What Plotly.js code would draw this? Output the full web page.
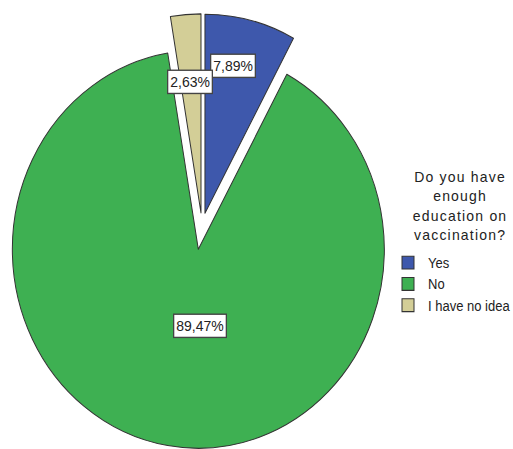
<!DOCTYPE html>
<html><head><meta charset="utf-8">
<script src="https://cdn.plot.ly/plotly-3.0.1.min.js"></script>
<style>
html,body{margin:0;padding:0;overflow:hidden;background:#fff;width:513px;height:449px;}
#chart{position:absolute;left:-20px;top:0;width:560px;height:420px;transform:scaleY(1.07);transform-origin:0 0;}
.annotation[data-index="3"] text{letter-spacing:1.2px;}
</style></head><body><div id="chart"></div>
<script>
const categories = ['Yes', 'No', 'I have no idea'];
const counts = [3, 34, 1];
const legendTitle = 'Do you have<br>enough<br>education on<br>vaccination?';

const colors = ['#3E58AC', '#3EB052', '#D3CE97'];
const pulls = [0.065, 0.12, 0.065];
const labelOffsets = [[0.169, -0.805], [-0.011, 0.504], [-0.065, -0.723]];

const W = 560, H = 420;
const domX = [0.02446, 0.76839], domY = [0.0017, 0.9936];
const cx = W * (domX[0] + domX[1]) / 2;
const boxH = H * (domY[1] - domY[0]);
const cy = H * (1 - domY[0]) - boxH / 2;
const r = Math.min(W * (domX[1] - domX[0]), boxH) / 2 / (1 + Math.max(...pulls));
const total = counts.reduce((a, b) => a + b, 0);
const font = 'Liberation Sans, Arial, sans-serif';

const annotations = categories.map((c, i) => ({
  xref: 'paper', yref: 'paper',
  x: (cx + labelOffsets[i][0] * r) / W,
  y: 1 - (cy + labelOffsets[i][1] * r) / H,
  xanchor: 'center', yanchor: 'middle',
  text: (counts[i] / total * 100).toFixed(2).replace('.', ',') + '%',
  showarrow: false, bgcolor: '#ffffff', bordercolor: '#444', borderwidth: 1.3, borderpad: 2,
  font: {family: font, size: 14, color: '#222'}
}));
annotations.push({
  xref: 'paper', yref: 'paper', x: 480 / W, y: 1 - 154.5 / H,
  xanchor: 'center', yanchor: 'top', align: 'center', showarrow: false,
  text: legendTitle, font: {family: font, size: 14, color: '#222'}
});

const trace = {
  type: 'pie', labels: categories, values: counts, sort: false,
  direction: 'clockwise', rotation: 0, pull: pulls,
  marker: {colors: colors, line: {color: '#333', width: 1}},
  textinfo: 'none', hoverinfo: 'none',
  domain: {x: domX, y: domY}
};

const layout = {
  width: W, height: H, margin: {l: 0, r: 0, t: 0, b: 0},
  paper_bgcolor: '#fff', showlegend: true,
  legend: {x: 408 / W, y: 1 - 230.5 / H, xanchor: 'left', yanchor: 'top',
    bgcolor: 'rgba(0,0,0,0)', font: {family: font, size: 13, color: '#222'}},
  annotations: annotations
};
Plotly.newPlot('chart', [trace], layout, {staticPlot: true, displayModeBar: false});
</script></body></html>
